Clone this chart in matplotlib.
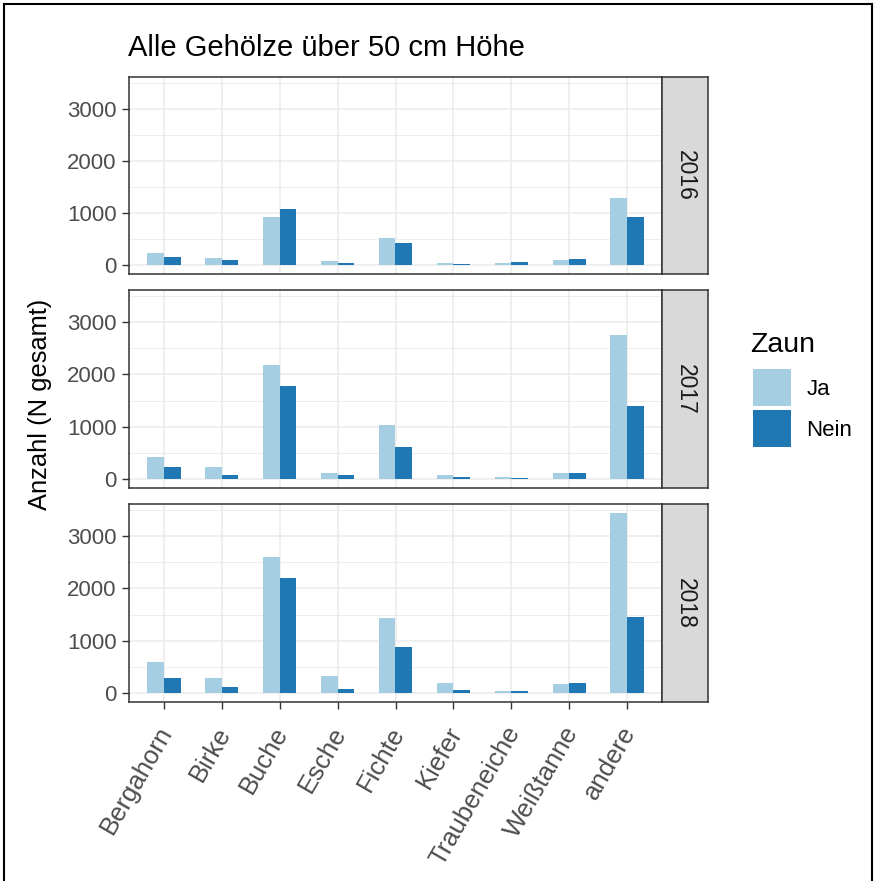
import numpy as np
import matplotlib
matplotlib.use('Agg')
import matplotlib.pyplot as plt
from matplotlib.patches import Patch
from matplotlib.lines import Line2D
from matplotlib.transforms import ScaledTranslation

plt.rcParams['font.family'] = ['Liberation Sans', 'DejaVu Sans']

# data
arten = ['Bergahorn', 'Birke', 'Buche', 'Esche', 'Fichte', 'Kiefer',
         'Traubeneiche', 'Weißtanne', 'andere']
jahre = ['2016', '2017', '2018']
ja_2016 = [228, 127, 918, 76, 513, 35, 44, 95, 1297]
nein_2016 = [146, 89, 1070, 44, 424, 25, 57, 108, 924]
ja_2017 = [413, 232, 2180, 123, 1039, 71, 45, 123, 2744]
nein_2017 = [226, 84, 1770, 77, 619, 32, 26, 123, 1397]
ja_2018 = [601, 291, 2596, 323, 1437, 184, 38, 177, 3440]
nein_2018 = [278, 114, 2199, 76, 886, 63, 32, 184, 1443]
ja = [ja_2016, ja_2017, ja_2018]
nein = [nein_2016, nein_2017, nein_2018]

c_ja = '#a6cee3'
c_nein = '#1f78b4'
W, H = 877, 881

fig = plt.figure(figsize=(W/100, H/100), dpi=100)

# panel positions in pixels (top, bottom)
left, right, strip_r = 129, 662, 708
panels = [(77, 274), (290, 488), (504, 702)]

x = np.arange(len(arten))
bw = 0.29
ymax = max(max(v) for v in ja + nein)
lim = (-0.05*ymax, 1.05*ymax)

for i, (top, bot) in enumerate(panels):
    ax = fig.add_axes([left/W, 1-bot/H, (right-left)/W, (bot-top)/H])
    ax.bar(x - bw/2, ja[i], bw, color=c_ja, zorder=2)
    ax.bar(x + bw/2, nein[i], bw, color=c_nein, zorder=2)
    ax.set_xlim(-0.6, len(arten)-0.4)
    ax.set_ylim(lim)
    ax.set_yticks([0, 1000, 2000, 3000])
    ax.set_yticks([500, 1500, 2500, 3500], minor=True)
    ax.set_xticks(x)
    ax.grid(True, which='major', color='#ebebeb', lw=1.1, zorder=0)
    ax.grid(True, which='minor', axis='y', color='#ebebeb', lw=0.6, zorder=0)
    ax.set_axisbelow(True)
    for s in ax.spines.values():
        s.set_color('#333333')
        s.set_linewidth(1.1)
    ax.tick_params(axis='y', which='major', length=5, width=1, color='#333333',
                   labelsize=16, labelcolor='#4d4d4d', pad=4)
    ax.tick_params(which='minor', length=0)
    if i < 2:
        ax.tick_params(axis='x', length=0, labelbottom=False)
    else:
        ax.tick_params(axis='x', length=5, width=1, color='#333333',
                       labelsize=18.5, labelcolor='#4d4d4d', pad=14)
        ax.set_xticklabels(arten, rotation=60, ha='right', va='center',
                           rotation_mode='anchor')
        shift = ScaledTranslation(3/100, 0, fig.dpi_scale_trans)
        for lab in ax.get_xticklabels():
            lab.set_transform(lab.get_transform() + shift)

    # facet strip on the right
    sax = fig.add_axes([right/W, 1-bot/H, (strip_r-right)/W, (bot-top)/H])
    sax.set_facecolor('#d9d9d9')
    sax.set_xticks([])
    sax.set_yticks([])
    for s in sax.spines.values():
        s.set_color('#333333')
        s.set_linewidth(1.1)
    sax.text(0.5, 0.5, jahre[i], rotation=270, ha='center', va='center',
             fontsize=16.5, color='#1a1a1a', transform=sax.transAxes)

fig.text(128/W, 1-48/H, 'Alle Gehölze über 50 cm Höhe', fontsize=21,
         ha='left', va='center', color='black')
fig.text(40/W, 1-404/H, 'Anzahl (N gesamt)', fontsize=18.4, rotation=90,
         ha='center', va='center', color='black')

# legend
fig.text(750/W, 1-345/H, 'Zaun', fontsize=20.5, ha='left', va='center',
         color='black')
handles = [Patch(facecolor=c_ja, edgecolor='none', label='Ja'),
           Patch(facecolor=c_nein, edgecolor='none', label='Nein')]
fig.legend(handles=handles, loc='upper left',
           bbox_to_anchor=(753/W, 1-369/H), frameon=False,
           fontsize=16, handlelength=1.72, handleheight=2.2,
           labelspacing=0.18, handletextpad=0.68,
           borderpad=0, borderaxespad=0)

# outer black frame of the picture
for xs, ys in [([4/W, 4/W], [0, 1-4/H]), ([4/W, 872/W], [1-4/H, 1-4/H]),
               ([872/W, 872/W], [0, 1-4/H])]:
    fig.add_artist(Line2D(xs, ys, color='black', lw=1.5, transform=fig.transFigure))

fig.savefig('out.png', dpi=100)
